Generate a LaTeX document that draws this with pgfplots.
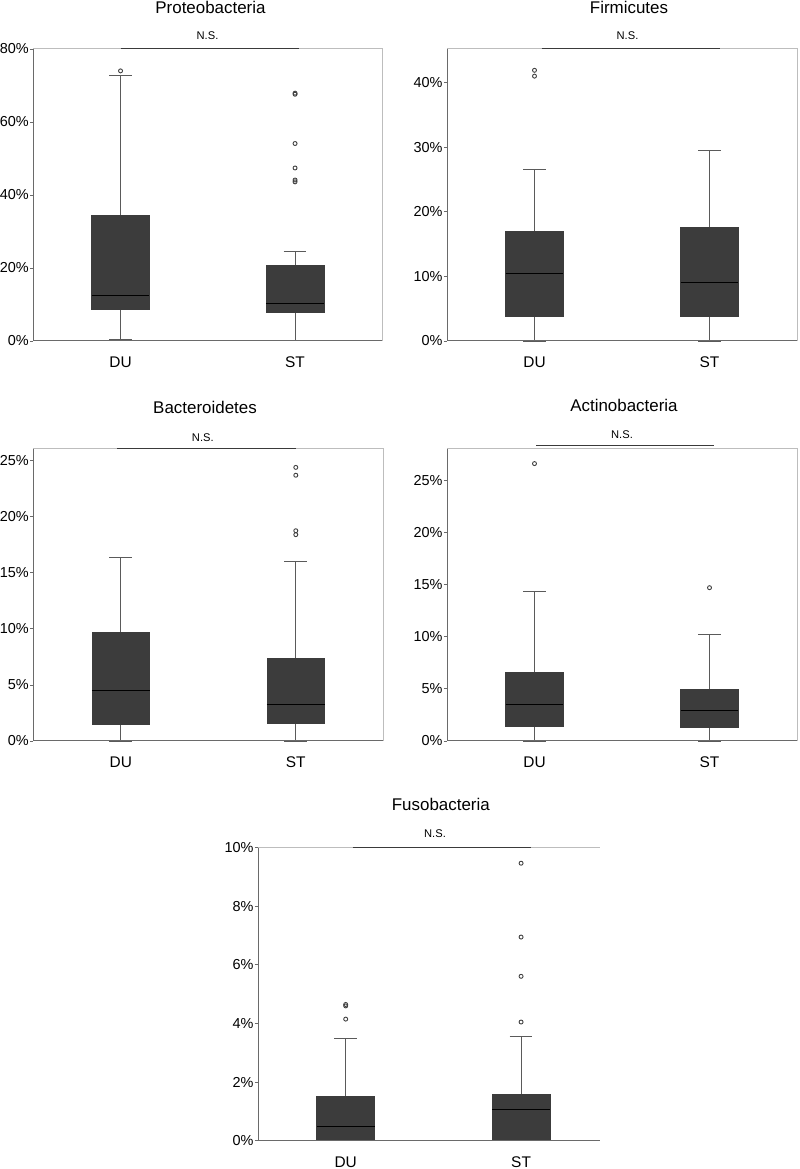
\documentclass[border=0pt]{standalone}
\usepackage{fontspec}
\setmainfont{Liberation Sans}
\usepackage{pgfplots}
\pgfplotsset{compat=1.18}
\usepgfplotslibrary{statistics}
\definecolor{boxc}{HTML}{3C3C3C}
\definecolor{whc}{HTML}{5A5A5A}
\definecolor{frL}{HTML}{BDBDBD}
\definecolor{frD}{HTML}{6A6A6A}
\definecolor{nsc}{HTML}{3A3A3A}
\pgfplotsset{
  panel/.style={
    scale only axis, clip=false,
    xmin=-0.5, xmax=1.5, ymin=0,
    xtick={0,1}, xticklabels={DU,ST},
    xtick style={draw=none},
    ytick pos=left, tick align=outside,
    major tick length=3.5bp,
    ytick style={draw=frD, line width=0.8bp},
    axis line style={draw=frL, line width=1bp},
    yticklabel style={font=\fontsize{14.5}{16}\selectfont, text=black, inner sep=0.8bp},
    xticklabel style={font=\fontsize{15.5}{17}\selectfont, text=black, anchor=base, inner sep=0pt, yshift=-23.5bp},
    boxplot/draw direction=y,
    boxplot/box extend=0.33,
    boxplot/whisker extend=0.13,
    boxplot/every box/.style={draw=boxc, fill=boxc, line width=0.6bp},
    boxplot/every median/.style={draw=black, line width=0.9bp},
    boxplot/every whisker/.style={draw=whc, line width=1.1bp},
  },
  bp/.style={mark=o, mark size=2bp, mark options={draw=black!75, line width=0.9bp, fill=white}, draw=boxc},
}
\begin{document}
\begin{tikzpicture}
\useasboundingbox (0,0) rectangle (800bp,1169bp);
% Panel 1: Proteobacteria
\begin{axis}[panel, at={(33.3bp,828bp)}, anchor=south west, width=349bp, height=292bp,
  ymax=80, ytick={0,20,40,60,80}, yticklabels={0\%,20\%,40\%,60\%,80\%}]
\addplot[bp, boxplot prepared={draw position=0, lower whisker=0.3, lower quartile=8.7, median=12.6, upper quartile=34.3, upper whisker=72.8}]
  table[row sep=\\, y index=0]{data\\ 74.0\\};
\addplot[bp, boxplot prepared={draw position=1, lower whisker=0.1, lower quartile=7.8, median=10.2, upper quartile=20.8, upper whisker=24.4}]
  table[row sep=\\, y index=0]{data\\ 67.9\\ 67.6\\ 54.1\\ 47.4\\ 44.1\\ 43.6\\};
\draw[frD, line width=1bp] (rel axis cs:0,1) -- (rel axis cs:0,0) -- (rel axis cs:1,0);
\draw[nsc, line width=1bp] (axis cs:0,80) -- (axis cs:1.02,80);
\end{axis}
% Panel 2: Firmicutes
\begin{axis}[panel, at={(447bp,828bp)}, anchor=south west, width=350bp, height=292bp,
  ymax=45.2, ytick={0,10,20,30,40}, yticklabels={0\%,10\%,20\%,30\%,40\%}]
\addplot[bp, boxplot prepared={draw position=0, lower whisker=0, lower quartile=3.76, median=10.4, upper quartile=17.0, upper whisker=26.6}]
  table[row sep=\\, y index=0]{data\\ 41.9\\ 41.0\\};
\addplot[bp, boxplot prepared={draw position=1, lower whisker=0, lower quartile=3.8, median=9.0, upper quartile=17.6, upper whisker=29.5}]
  coordinates {};
\draw[frD, line width=1bp] (rel axis cs:0,1) -- (rel axis cs:0,0) -- (rel axis cs:1,0);
\draw[nsc, line width=1bp] (axis cs:0.04,45.2) -- (axis cs:1.06,45.2);
\end{axis}
% Panel 3: Bacteroidetes
\begin{axis}[panel, at={(33.3bp,428bp)}, anchor=south west, width=350bp, height=292bp,
  ymax=26.04, ytick={0,5,10,15,20,25}, yticklabels={0\%,5\%,10\%,15\%,20\%,25\%}]
\addplot[bp, boxplot prepared={draw position=0, lower whisker=0, lower quartile=1.49, median=4.52, upper quartile=9.67, upper whisker=16.4}]
  coordinates {};
\addplot[bp, boxplot prepared={draw position=1, lower whisker=0, lower quartile=1.55, median=3.27, upper quartile=7.41, upper whisker=16.04}]
  table[row sep=\\, y index=0]{data\\ 24.4\\ 23.7\\ 18.75\\ 18.4\\};
\draw[frD, line width=1bp] (rel axis cs:0,1) -- (rel axis cs:0,0) -- (rel axis cs:1,0);
\draw[nsc, line width=1bp] (axis cs:-0.02,26.04) -- (axis cs:1.0,26.04);
\end{axis}
% Panel 4: Actinobacteria
\begin{axis}[panel, at={(447bp,428bp)}, anchor=south west, width=350bp, height=292bp,
  ymax=28, ytick={0,5,10,15,20,25}, yticklabels={0\%,5\%,10\%,15\%,20\%,25\%}]
\addplot[bp, boxplot prepared={draw position=0, lower whisker=0, lower quartile=1.41, median=3.52, upper quartile=6.56, upper whisker=14.37}]
  table[row sep=\\, y index=0]{data\\ 26.6\\};
\addplot[bp, boxplot prepared={draw position=1, lower whisker=0, lower quartile=1.34, median=2.94, upper quartile=5.0, upper whisker=10.18}]
  table[row sep=\\, y index=0]{data\\ 14.7\\};
\draw[frD, line width=1bp] (rel axis cs:0,1) -- (rel axis cs:0,0) -- (rel axis cs:1,0);
\draw[nsc, line width=1bp] (axis cs:0.01,28.29) -- (axis cs:1.025,28.29);
\end{axis}
% Panel 5: Fusobacteria
\begin{axis}[panel, at={(258bp,28.3bp)}, anchor=south west, width=342bp, height=293bp,
  xmax=1.45, axis line style={draw=none},
  ymax=10, ytick={0,2,4,6,8,10}, yticklabels={0\%,2\%,4\%,6\%,8\%,10\%}]
\addplot[bp, boxplot prepared={draw position=0, lower whisker=0, lower quartile=0, median=0.50, upper quartile=1.52, upper whisker=3.48}]
  table[row sep=\\, y index=0]{data\\ 4.65\\ 4.6\\ 4.15\\};
\addplot[bp, boxplot prepared={draw position=1, lower whisker=0, lower quartile=0, median=1.07, upper quartile=1.59, upper whisker=3.55}]
  table[row sep=\\, y index=0]{data\\ 9.47\\ 6.95\\ 5.61\\ 4.05\\};
\draw[frL, line width=1bp] (rel axis cs:0,1) -- (rel axis cs:1,1);
\draw[frD, line width=1bp] (rel axis cs:0,1) -- (rel axis cs:0,0) -- (rel axis cs:1,0);
\draw[nsc, line width=1bp] (axis cs:0.04,10) -- (axis cs:1.055,10);
\end{axis}
% Titles and N.S. labels
\begin{scope}[every node/.style={anchor=base, inner sep=0pt, text=black}]
\node[font=\fontsize{17}{19}\selectfont] at (210.5bp,1155.7bp) {Proteobacteria};
\node[font=\fontsize{17}{19}\selectfont] at (629bp,1155.7bp) {Firmicutes};
\node[font=\fontsize{17}{19}\selectfont] at (205bp,755.7bp) {Bacteroidetes};
\node[font=\fontsize{17}{19}\selectfont] at (624bp,757.3bp) {Actinobacteria};
\node[font=\fontsize{17}{19}\selectfont] at (440.8bp,358bp) {Fusobacteria};
\node[font=\fontsize{11.2}{13}\selectfont] at (207.5bp,1129bp) {N.S.};
\node[font=\fontsize{11.2}{13}\selectfont] at (627.5bp,1129.7bp) {N.S.};
\node[font=\fontsize{11.2}{13}\selectfont] at (202.8bp,727.3bp) {N.S.};
\node[font=\fontsize{11.2}{13}\selectfont] at (622bp,730bp) {N.S.};
\node[font=\fontsize{11.2}{13}\selectfont] at (435bp,331.7bp) {N.S.};
\end{scope}
\end{tikzpicture}
\end{document}
